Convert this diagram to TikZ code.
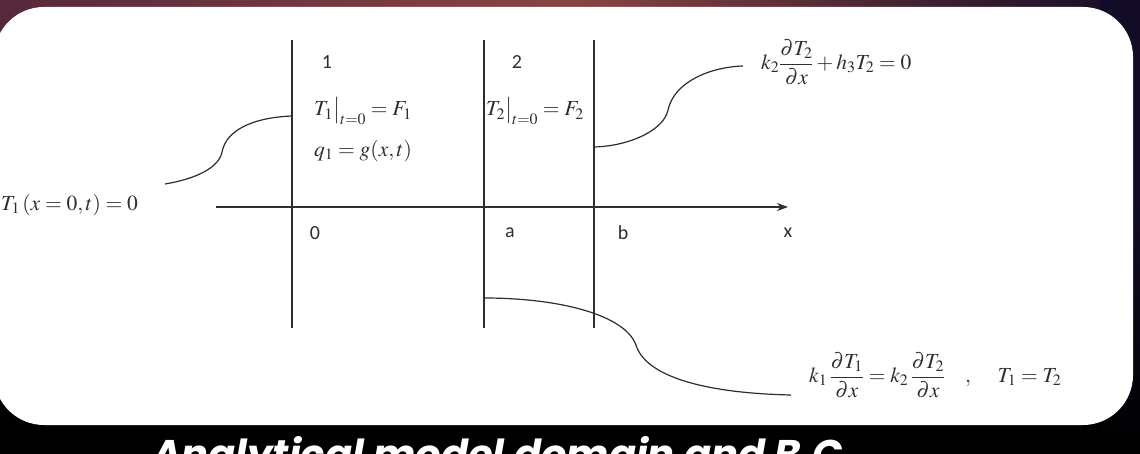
\documentclass[tikz,border=0pt]{standalone}
\usepackage{mathptmx}
\usepackage[no-math]{fontspec}
\setmainfont{Liberation Serif}
\newfontfamily\calib{Carlito}
\newfontfamily\capfont{Poppins}
\usetikzlibrary{arrows.meta,fadings}
\definecolor{ink}{HTML}{2E2E2E}
\definecolor{bgA}{HTML}{55283C}
\definecolor{bgB}{HTML}{8A4442}
\definecolor{bgC}{HTML}{120C26}
\tikzset{
  rule/.style={draw=ink, line width=1.7pt},
  curvel/.style={draw=ink, line width=1.2pt},
  lab/.style={font=\calib\fontsize{20}{24}\selectfont, text=ink, inner sep=0pt},
  eq/.style={font=\fontsize{21.5}{25}\selectfont, text=ink, inner sep=0pt, anchor=west},
}
\begin{document}
\begin{tikzpicture}[x=1pt,y=-1pt]
\useasboundingbox (0,0) rectangle (1140,454);
% background
\fill[black] (0,0) rectangle (1140,454);
\shade[left color=bgA, right color=bgC, middle color=bgB] (0,0) rectangle (1140,80);
\fill[black, path fading=north] (0,30) rectangle (1140,200);
\fill[bgC] (1100,0) rectangle (1140,454);
\shade[top color=bgC, bottom color=black] (1100,200) rectangle (1140,454);
% white panel
\fill[white, rounded corners=50pt] (-6,7) rectangle (1133,425);
% axis and walls
\coordinate (ax0) at (216,207);
\coordinate (ax1) at (788,207);
\draw[rule, -{Stealth[length=11pt,width=8pt]}] (ax0) -- (ax1);
\coordinate (w1t) at (292,40); \coordinate (w1b) at (292,328);
\coordinate (w2t) at (484,40); \coordinate (w2b) at (484,328);
\coordinate (w3t) at (594,40); \coordinate (w3b) at (594,328);
\draw[rule] (w1t) -- (w1b);
\draw[rule] (w2t) -- (w2b);
\draw[rule] (w3t) -- (w3b);
% labels
\node[lab] (n1) at (327,62) {1};
\node[lab] (n2) at (517,62) {2};
\node[lab] (n0) at (315,233) {0};
\node[lab] (na) at (510,233) {a};
\node[lab] (nb) at (623,233) {b};
\node[lab] (nx) at (788,233) {x};
% equations
\node[eq] (eF1) at (314,111) {$T_1\big|_{t=0} = F_1$};
\node[eq] (eq1) at (314,151) {$q_1 = g(x,t)$};
\node[eq] (eF2) at (486,111) {$T_2\big|_{t=0} = F_2$};
\node[eq] (lbc) at (1,205) {$T_1\left(x=0,t\right)=0$};
\node[eq] (rbc) at (761,62) {$\displaystyle k_2\frac{\partial T_2}{\partial x}+h_3T_2=0$};
\node[eq] (ibc) at (809,375) {$\displaystyle k_1\,\frac{\partial T_1}{\partial x}=k_2\,\frac{\partial T_2}{\partial x}\hspace{20pt},\hspace{24pt}T_1=T_2$};
% leader curves
\coordinate (c1s) at (165,184);
\coordinate (c1e) at (292,116);
\draw[curvel] (c1s) .. controls (195,179) and (219,168) .. (222,152)
               .. controls (227,126) and (262,117) .. (c1e);
\coordinate (c2s) at (594,147);
\coordinate (c2e) at (743,66);
\draw[curvel] (c2s) .. controls (630,146) and (664,130) .. (668,110)
               .. controls (674,82) and (710,67) .. (c2e);
\coordinate (c3s) at (484,298);
\coordinate (c3e) at (791,395);
\draw[curvel] (c3s) .. controls (560,298) and (625,315) .. (636,345)
               .. controls (645,375) and (700,393) .. (c3e);
% caption
\node[font=\capfont\bfseries\itshape\fontsize{40}{44}\selectfont, text=white, anchor=base west, inner sep=0pt] (cap) at (152,468) {Analytical model domain and B.C.};
\end{tikzpicture}
\end{document}
